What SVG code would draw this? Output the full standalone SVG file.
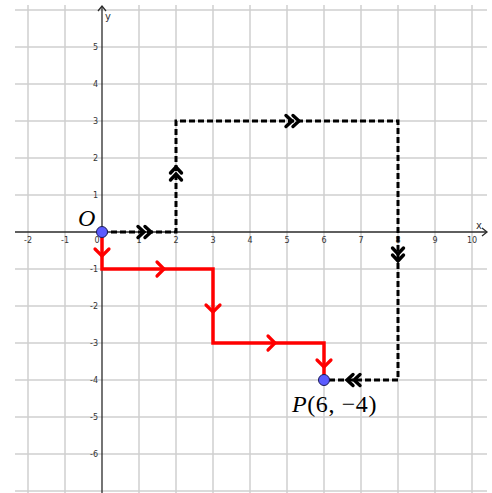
<svg xmlns="http://www.w3.org/2000/svg" width="492" height="493" viewBox="0 0 492 493">
<style>
.grid line{stroke:#cfcfcf;stroke-width:1.5}
.axis{stroke:#2a2a2a;stroke-width:1.3;fill:none}
.tk{font-family:"DejaVu Sans",sans-serif;font-size:8px;fill:#333}
.tx{text-anchor:middle}
.ty{text-anchor:end}
.red{stroke:#ff0000;stroke-width:3.5;fill:none;stroke-linejoin:miter}
.dash{stroke:#000;stroke-width:3;fill:none;stroke-dasharray:6,3}
.chr{stroke:#ff0000;stroke-width:3.2;fill:none;stroke-linecap:round}
.chb{stroke:#000;stroke-width:3.4;fill:none;stroke-linecap:round}
.pt{fill:#5b5bff;stroke:#1a1a55;stroke-width:1}
.lab{font-family:"Liberation Serif","DejaVu Serif",serif;font-size:24px;fill:#000}
</style>
<defs>
<path id="cr" d="M-7,-7 L0,0 L-7,7"/>
<path id="cb" d="M-10,-5.5 L-4,0 L-10,5.5 M-3,-5.5 L3,0 L-3,5.5"/>
</defs>
<rect width="492" height="493" fill="#fff"/>
<g class="grid" id="grid">
<line x1="28" y1="5" x2="28" y2="493"/><line x1="65" y1="5" x2="65" y2="493"/>
<line x1="139" y1="5" x2="139" y2="493"/><line x1="176" y1="5" x2="176" y2="493"/>
<line x1="213" y1="5" x2="213" y2="493"/><line x1="250" y1="5" x2="250" y2="493"/>
<line x1="287" y1="5" x2="287" y2="493"/><line x1="324" y1="5" x2="324" y2="493"/>
<line x1="361" y1="5" x2="361" y2="493"/><line x1="398" y1="5" x2="398" y2="493"/>
<line x1="435" y1="5" x2="435" y2="493"/><line x1="472" y1="5" x2="472" y2="493"/>
<line x1="15" y1="10" x2="487" y2="10"/><line x1="15" y1="47" x2="487" y2="47"/>
<line x1="15" y1="84" x2="487" y2="84"/><line x1="15" y1="121" x2="487" y2="121"/>
<line x1="15" y1="158" x2="487" y2="158"/><line x1="15" y1="195" x2="487" y2="195"/>
<line x1="15" y1="269" x2="487" y2="269"/><line x1="15" y1="306" x2="487" y2="306"/>
<line x1="15" y1="343" x2="487" y2="343"/><line x1="15" y1="380" x2="487" y2="380"/>
<line x1="15" y1="417" x2="487" y2="417"/><line x1="15" y1="454" x2="487" y2="454"/>
<line x1="15" y1="491" x2="487" y2="491"/>
</g>
<g id="axes">
<line class="axis" x1="15" y1="232" x2="487" y2="232"/>
<path class="axis" d="M482,228 L487,232 L482,236"/>
<line class="axis" x1="102" y1="493" x2="102" y2="6"/>
<path class="axis" d="M98,11 L102,6 L106,11"/>
<text x="476" y="229" class="tk" style="font-size:10px">x</text>
<text x="105" y="20" class="tk" style="font-size:10px">y</text>
</g>
<g id="ticks">
<text class="tk tx" x="28" y="243">-2</text><text class="tk tx" x="65" y="243">-1</text>
<text class="tk tx" x="97" y="243">0</text><text class="tk tx" x="139" y="243">1</text>
<text class="tk tx" x="176" y="243">2</text><text class="tk tx" x="213" y="243">3</text>
<text class="tk tx" x="250" y="243">4</text><text class="tk tx" x="287" y="243">5</text>
<text class="tk tx" x="324" y="243">6</text><text class="tk tx" x="361" y="243">7</text>
<text class="tk tx" x="398" y="243">8</text><text class="tk tx" x="435" y="243">9</text>
<text class="tk tx" x="472" y="243">10</text>
<text class="tk ty" x="98" y="50">5</text><text class="tk ty" x="98" y="87">4</text>
<text class="tk ty" x="98" y="124">3</text><text class="tk ty" x="98" y="161">2</text>
<text class="tk ty" x="98" y="198">1</text><text class="tk ty" x="98" y="272">-1</text>
<text class="tk ty" x="98" y="309">-2</text><text class="tk ty" x="98" y="346">-3</text>
<text class="tk ty" x="98" y="383">-4</text><text class="tk ty" x="98" y="420">-5</text>
<text class="tk ty" x="98" y="457">-6</text>
</g>
<g id="connectors">
<path id="blackpath" class="dash" d="M102,232 H176 V121 H398 V380 H324"/>
<path id="redpath" class="red" d="M102,232 V269 H213 V343 H324 V380"/>
<use href="#cb" class="chb" transform="translate(148,232)"/>
<use href="#cb" class="chb" transform="translate(176,170) rotate(-90)"/>
<use href="#cb" class="chb" transform="translate(296,121)"/>
<use href="#cb" class="chb" transform="translate(398,258) rotate(90)"/>
<use href="#cb" class="chb" transform="translate(350,380) rotate(180)"/>
<use href="#cr" class="chr" transform="translate(102,256) rotate(90)"/>
<use href="#cr" class="chr" transform="translate(164,269)"/>
<use href="#cr" class="chr" transform="translate(213,312) rotate(90)"/>
<use href="#cr" class="chr" transform="translate(275,343)"/>
<use href="#cr" class="chr" transform="translate(324,367) rotate(90)"/>
</g>
<g id="O">
<circle class="pt" cx="102" cy="232" r="5.5"/>
<text class="lab" x="78" y="226" font-style="italic">O</text>
</g>
<g id="P">
<circle class="pt" cx="324" cy="380" r="5.5"/>
<text class="lab" x="292" y="412" letter-spacing="0.6"><tspan font-style="italic">P</tspan>(6, −4)</text>
</g>
</svg>
